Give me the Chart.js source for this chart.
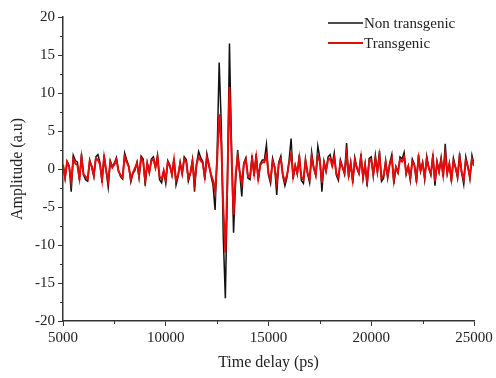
<!DOCTYPE html>
<html>
<head>
<meta charset="utf-8">
<script src="https://cdn.jsdelivr.net/npm/chart.js@4"></script>
<style>
  html, body { margin: 0; padding: 0; background: #fff; }
  #wrap { width: 496px; height: 378px; }
</style>
</head>
<body>
<div id="wrap"><canvas id="c" width="496" height="378"></canvas></div>
<script>
'use strict';

// ── Data ────────────────────────────────────────────────────
const seriesNames = ['Non transgenic', 'Transgenic'];
const tStart = 5000;   // ps
const tStep  = 100;    // ps

// Non transgenic (black), one value every 100 ps from 5000 to 25000
const nonTransgenic = [
  0.5,-1.2,1.0,0.4,-3.0,1.8,1.1,0.9,-1.5,2.0,
  -0.8,-1.4,-1.6,1.2,0.2,-1.0,1.6,1.9,0.8,-1.8,
  1.9,-0.3,-2.4,1.1,0.3,0.8,1.5,-0.2,-1.0,-1.3,
  2.1,1.2,0.4,-1.7,-0.6,-0.2,0.9,-1.1,1.7,1.3,
  -2.2,0.8,-0.5,1.3,1.6,0.2,1.8,-1.4,-1.8,-0.3,
  -1.9,1.1,0.5,-0.8,1.4,-2.1,-1.0,0.9,-0.7,1.6,
  1.2,-1.6,-0.6,1.2,-3.0,0.7,2.3,1.5,1.0,-1.4,
  2.0,0.6,-0.9,-2.1,
  // pulse
  -5.4,2.0,14.0,6.0,-9.0,-17.0,-2.5,16.5,3.0,-8.4,-1.5,2.5,
  -0.5,-3.6,0.8,1.5,-1.2,-1.4,1.8,-0.9,2.0,-1.6,
  0.7,1.2,1.2,3.2,-0.8,-1.9,1.4,0.3,-3.4,0.9,
  1.7,-1.0,-2.2,-1.1,1.1,4.0,-1.3,0.5,-0.7,1.9,
  -1.5,-1.9,1.3,-0.6,-1.8,2.2,0.2,-0.9,3.0,1.4,
  -3.0,1.0,-0.3,1.6,1.9,0.6,2.1,-0.8,-1.5,1.2,
  0.3,-0.7,3.4,-1.1,0.9,-1.9,1.5,0.2,-0.6,2.0,
  -1.3,0.7,-2.3,1.4,1.6,-0.9,1.8,-0.4,2.4,-1.6,
  -1.2,1.1,-1.2,0.8,1.9,-2.0,0.3,-0.5,1.6,1.3,
  2.2,-0.7,0.4,-1.5,1.3,0.6,-1.8,1.9,-0.3,0.9,
  -1.4,1.7,0.2,-0.8,2.0,-2.2,1.0,-0.4,1.5,-1.0,
  3.3,-0.6,0.8,-1.7,1.4,0.2,-1.2,2.1,-0.5,-2.0,
  1.6,0.4,-1.3,1.8,0.6
];

// Transgenic (red), same time grid
const transgenic = [
  0.6,-1.1,0.9,0.3,-1.6,1.3,0.7,0.5,-1.2,1.5,
  -0.7,-1.0,-1.3,1.0,0.4,-0.8,1.4,1.2,0.6,-1.4,
  1.5,-0.2,-1.6,0.9,0.2,0.6,1.2,-0.3,-0.8,-1.1,
  1.6,0.9,0.3,-1.3,-0.5,0.1,0.8,-0.9,1.4,1.0,
  -1.5,0.7,-0.4,1.1,1.3,0.2,1.5,-1.0,-1.3,-0.2,
  -1.4,0.9,0.4,-0.7,1.2,-1.5,-0.8,0.7,-0.5,1.3,
  0.9,-1.2,-0.5,1.0,-1.8,0.6,1.6,1.1,0.8,-1.0,
  1.5,0.5,-0.7,-1.5,
  // pulse
  -3.0,1.0,7.2,3.5,-5.0,-11.0,-1.5,10.8,2.0,-6.0,-0.8,1.6,
  -0.4,-1.9,0.6,1.2,-0.9,-1.0,1.3,-0.6,1.5,-1.2,
  0.5,0.9,0.9,1.8,-0.6,-1.4,1.0,0.2,-1.8,0.7,
  1.3,-0.8,-1.6,-0.8,0.8,2.0,-1.0,0.4,-0.5,1.4,
  -1.1,-1.4,1.0,-0.5,-1.3,1.6,0.1,-0.7,1.8,1.0,
  -1.8,0.8,-0.2,1.2,1.4,0.4,1.5,-0.6,-1.1,0.9,
  0.2,-0.5,1.9,-0.8,0.7,-1.4,1.1,0.1,-0.5,1.5,
  -1.0,0.5,-1.6,1.0,1.2,-0.7,1.3,-0.3,1.7,-1.2,
  -0.9,0.8,-0.9,0.6,1.4,-1.5,0.2,-0.4,1.2,1.0,
  1.6,-0.5,0.3,-1.1,1.0,0.5,-1.3,1.4,-0.2,0.7,
  -1.0,1.3,0.1,-0.6,1.5,-1.6,0.8,-0.3,1.1,-0.8,
  1.9,-0.5,0.6,-1.3,1.0,0.2,-0.9,1.5,-0.4,-1.4,
  1.1,0.3,-1.0,1.3,0.4
];

const xMinorTicks = [7500, 12500, 17500, 22500];
const yMinorTicks = [-17.5, -12.5, -7.5, -2.5, 2.5, 7.5, 12.5, 17.5];

// ── Style ───────────────────────────────────────────────────
const FONT   = "'Liberation Serif', 'DejaVu Serif', serif";
const AXIS   = '#333';
const BLACK  = '#111';
const RED    = '#e80a0a';

const toPoints = vals => vals.map((y, i) => ({ x: tStart + i * tStep, y }));

// minor ticks + legend drawn on top
const extras = {
  id: 'extras',
  afterDraw(chart) {
    const { ctx, scales: { x, y } } = chart;
    ctx.save();
    ctx.strokeStyle = AXIS;
    ctx.lineWidth = 1;
    ctx.beginPath();
    xMinorTicks.forEach(v => {
      const px = Math.round(x.getPixelForValue(v)) + 0.5;
      ctx.moveTo(px, y.bottom);
      ctx.lineTo(px, y.bottom + 3);
    });
    yMinorTicks.forEach(v => {
      const py = Math.round(y.getPixelForValue(v)) + 0.5;
      ctx.moveTo(x.left, py);
      ctx.lineTo(x.left - 3, py);
    });
    ctx.stroke();

    // legend
    const colors = [BLACK, RED];
    ctx.font = '15px ' + FONT;
    ctx.textBaseline = 'middle';
    ctx.textAlign = 'left';
    seriesNames.forEach((name, i) => {
      const ly = 23 + i * 20;
      ctx.strokeStyle = colors[i];
      ctx.lineWidth = i === 0 ? 1.5 : 1.8;
      ctx.beginPath();
      ctx.moveTo(328, ly);
      ctx.lineTo(363, ly);
      ctx.stroke();
      ctx.fillStyle = '#222';
      ctx.fillText(name, 364, ly + 1);
    });
    ctx.restore();
  }
};

new Chart(document.getElementById('c'), {
  type: 'line',
  data: {
    datasets: [
      {
        label: seriesNames[0],
        data: toPoints(nonTransgenic),
        borderColor: BLACK,
        borderWidth: 1.5,
        pointRadius: 0,
        tension: 0,
        order: 1
      },
      {
        label: seriesNames[1],
        data: toPoints(transgenic),
        borderColor: RED,
        borderWidth: 2,
        pointRadius: 0,
        tension: 0,
        order: 0
      }
    ]
  },
  options: {
    responsive: false,
    animation: false,
    layout: { padding: { top: 17, right: 22, left: 0, bottom: 0 } },
    plugins: { legend: { display: false }, tooltip: { enabled: false } },
    scales: {
      x: {
        type: 'linear',
        min: 5000, max: 25000,
        afterFit: s => { s.height = 57; },
        border: { color: AXIS, width: 1.5 },
        grid: { drawOnChartArea: false, drawTicks: true, tickLength: 5, tickColor: AXIS },
        ticks: {
          stepSize: 5000, autoSkip: false, maxRotation: 0, padding: 3,
          color: '#222', font: { family: FONT, size: 15 },
          callback: v => String(v)
        },
        title: {
          display: true, text: 'Time delay (ps)', color: '#222',
          font: { family: FONT, size: 16 }, padding: { top: 0, bottom: 6 }
        }
      },
      y: {
        min: -20, max: 20,
        afterFit: s => { s.width = 63; },
        border: { color: AXIS, width: 1.5 },
        grid: { drawOnChartArea: false, drawTicks: true, tickLength: 5, tickColor: AXIS },
        ticks: {
          stepSize: 5, padding: 3,
          color: '#222', font: { family: FONT, size: 15 }
        },
        title: {
          display: true, text: 'Amplitude (a.u)', color: '#222',
          font: { family: FONT, size: 16 }, padding: { top: 8, bottom: 0 }
        }
      }
    }
  },
  plugins: [extras]
});
</script>
</body>
</html>
